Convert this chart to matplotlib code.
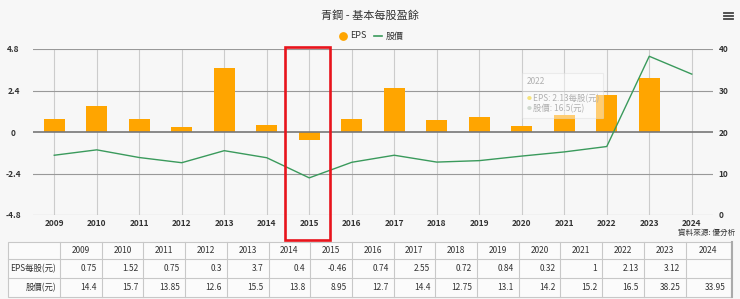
import matplotlib
matplotlib.use("Agg")
import matplotlib.pyplot as plt
from matplotlib.patches import Rectangle

plt.rcParams['font.family'] = ['Noto Sans CJK TC', 'DejaVu Sans']

# data
years = ['2009', '2010', '2011', '2012', '2013', '2014', '2015', '2016',
         '2017', '2018', '2019', '2020', '2021', '2022', '2023', '2024']
eps = [0.75, 1.52, 0.75, 0.3, 3.7, 0.4, -0.46, 0.74,
       2.55, 0.72, 0.84, 0.32, 1, 2.13, 3.12, None]
price = [14.4, 15.7, 13.85, 12.6, 15.5, 13.8, 8.95, 12.7,
         14.4, 12.75, 13.1, 14.2, 15.2, 16.5, 38.25, 33.95]
eps_ticks = [-4.8, -2.4, 0, 2.4, 4.8]
eps_tick_labels = ['-4.8', '-2.4', '0', '2.4', '4.8']
price_ticks = [0, 10, 20, 30, 40]
row_labels = ['EPS每股(元)', '股價(元)']

W, H = 740, 299
BG = '#f7f7f7'
ORANGE = '#ffa500'
GREEN = '#3a9a5c'

fig = plt.figure(figsize=(W / 100, H / 100), dpi=100, facecolor=BG)

# helper: pixel box -> figure fraction
def px_axes(x0, y0, x1, y1):
    return [x0 / W, 1 - y1 / H, (x1 - x0) / W, (y1 - y0) / H]

# main chart
ax = fig.add_axes(px_axes(33, 49, 713, 215))
ax.set_facecolor(BG)
xs = list(range(len(years)))
bx = [x for x, v in zip(xs, eps) if v is not None]
bv = [v for v in eps if v is not None]
ax.bar(bx, bv, width=0.5, color=ORANGE, zorder=3)
ax.set_xlim(-0.5, len(years) - 0.5)
ax.set_ylim(-4.8, 4.8)
ax.set_yticks(eps_ticks)
ax.set_yticklabels(eps_tick_labels)
ax.set_xticks(xs)
ax.set_xticklabels(years)
ax.tick_params(length=0, labelsize=6, colors='#333333')
ax.tick_params(axis='x', pad=3)
ax.tick_params(axis='y', pad=14)
for lab in ax.get_xticklabels() + ax.get_yticklabels():
    lab.set_fontweight('bold')
for lab in ax.get_yticklabels():
    lab.set_horizontalalignment('center')
for s in ax.spines.values():
    s.set_visible(False)
for x in xs:
    ax.axvline(x, color='#cccccc', lw=0.8, zorder=1)
for t in eps_ticks:
    ax.axhline(t, color='#999999' if t != 0 else '#777777',
               lw=0.8 if t != 0 else 1.2, zorder=2 if t != 0 else 4)

ax2 = ax.twinx()
ax2.plot(xs, price, color=GREEN, lw=1.0, zorder=5)
ax2.set_ylim(0, 40)
ax2.set_yticks(price_ticks)
ax2.tick_params(length=0, labelsize=6, colors='#333333', pad=4)
for lab in ax2.get_yticklabels():
    lab.set_fontweight('bold')
for s in ax2.spines.values():
    s.set_visible(False)

# overlay in pixel coordinates
ov = fig.add_axes([0, 0, 1, 1], facecolor='none')
ov.set_xlim(0, W)
ov.set_ylim(H, 0)
ov.axis('off')

ov.text(W / 2, 15, '青鋼 - 基本每股盈餘', ha='center', va='center',
        fontsize=8, color='#333333')
# hamburger menu
for dy in (-3, 0, 3):
    ov.plot([724, 733], [16 + dy, 16 + dy], color='#444444', lw=1.3)

# legend
ov.scatter([343], [36], s=28, color=ORANGE)
ov.text(350, 36, 'EPS', ha='left', va='center', fontsize=6.5, color='#333333')
ov.plot([374, 382], [36, 36], color=GREEN, lw=1.2)
ov.text(386, 36, '股價', ha='left', va='center', fontsize=6.5, color='#333333')

# tooltip at 2022
i22 = years.index('2022')
ov.add_patch(Rectangle((522, 73), 81, 45, facecolor='white', alpha=0.45,
                       edgecolor='#dddddd', lw=0.8, zorder=6))
ov.text(527, 82, years[i22], fontsize=6, color='#b0b0b0', va='center', zorder=7)
ov.text(527, 99, '●', fontsize=3.5, color='#f5e27a', va='center', zorder=7)
ov.text(533, 99, f'EPS: {eps[i22]}每股(元)', fontsize=6, color='#b0b0b0',
        va='center', zorder=7)
ov.text(527, 109, '●', fontsize=3.5, color='#cfd8d0', va='center', zorder=7)
ov.text(533, 109, f'股價: {price[i22]}(元)', fontsize=6, color='#b0b0b0',
        va='center', zorder=7)

# source
ov.text(735, 233, '資料來源: 優分析', ha='right', va='center', fontsize=5.5,
        color='#333333')

# table
col_x = [8, 60] + [60 + 41.7 * (k + 1) for k in range(len(years))]
col_x[-1] = 731
row_y = [242, 259, 278, 297]
lc = '#c8c8c8'
ov.add_patch(Rectangle((col_x[0], row_y[0]), col_x[-1] - col_x[0],
                       row_y[-1] - row_y[0], facecolor='#fbfbfb',
                       edgecolor=lc, lw=0.8))
for y in row_y[1:-1]:
    ov.plot([col_x[0], col_x[-1]], [y, y], color=lc, lw=0.8)
for x in col_x[1:-1]:
    ov.plot([x, x], [row_y[0], row_y[-1]], color=lc, lw=0.8)
ov.plot([col_x[-1] + 1, col_x[-1] + 1], [row_y[0], row_y[-1]],
        color='#aaaaaa', lw=1.5)

tfs = 6
for k, yr in enumerate(years):
    cx = (col_x[k + 1] + col_x[k + 2]) / 2
    ov.text(cx, (row_y[0] + row_y[1]) / 2, yr, ha='center', va='center',
            fontsize=tfs, color='#333333')
    rx = col_x[k + 2] - 5
    if eps[k] is not None:
        ov.text(rx, (row_y[1] + row_y[2]) / 2, f'{eps[k]:g}', ha='right',
                va='center', fontsize=tfs, color='#333333')
    ov.text(rx, (row_y[2] + row_y[3]) / 2, f'{price[k]:g}', ha='right',
            va='center', fontsize=tfs, color='#333333')
for r, lab in enumerate(row_labels):
    ov.text(col_x[1] - 4, (row_y[r + 1] + row_y[r + 2]) / 2, lab, ha='right',
            va='center', fontsize=tfs, color='#333333')

# red highlight box around 2015
ov.add_patch(Rectangle((285, 47), 45, 193, facecolor='none',
                       edgecolor='#e8141c', lw=1.9, zorder=8))

fig.savefig('out.png', dpi=100, facecolor=BG)
